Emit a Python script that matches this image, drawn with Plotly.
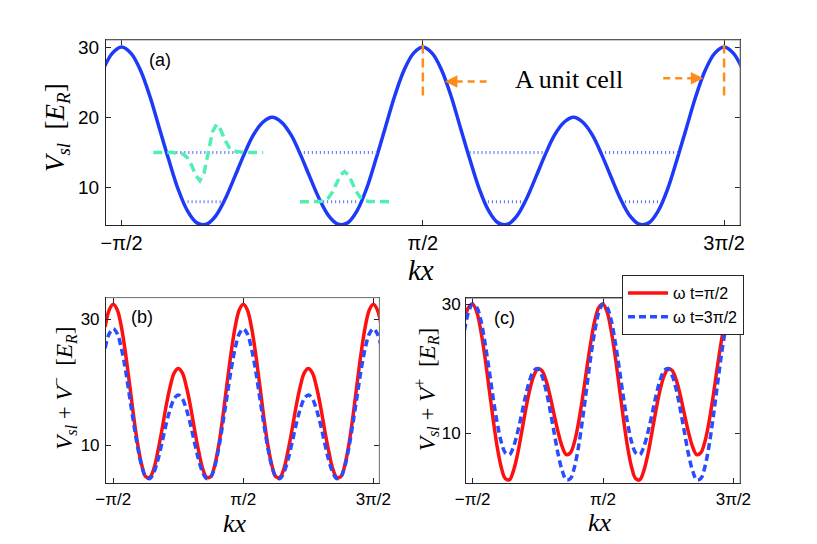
import plotly.graph_objects as go

# ---------------- data (x in units of pi) ----------------
KX = [k / 32 for k in range(-18, 51)]  # sample grid, step pi/32

V_SL = [26.7, 29.1, 30.0, 29.1, 26.7, 23.0, 18.5, 14.0, 9.8, 6.7, 5.0, 4.8, 6.0, 8.4, 11.5, 14.7, 17.5, 19.3,
        20.0, 19.3, 17.5, 14.7, 11.5, 8.4, 6.0, 4.8, 5.0, 6.7, 9.8, 14.0, 18.5, 23.0, 26.7, 29.1,
        30.0, 29.1, 26.7, 23.0, 18.5, 14.0, 9.8, 6.7, 5.0, 4.8, 6.0, 8.4, 11.5, 14.7, 17.5, 19.3,
        20.0, 19.3, 17.5, 14.7, 11.5, 8.4, 6.0, 4.8, 5.0, 6.7, 9.8, 14.0, 18.5, 23.0, 26.7, 29.1,
        30.0, 29.1, 26.7]

B_RED = [28.8, 31.5, 32.4, 31.5, 28.8, 24.7, 19.8, 14.7, 10.2, 6.9, 5.0, 4.9, 6.3, 9.1, 12.5, 16.2, 19.3, 21.5,
         22.2, 21.5, 19.3, 16.2, 12.5, 9.1, 6.3, 4.9, 5.0, 6.9, 10.2, 14.7, 19.8, 24.7, 28.8, 31.5,
         32.4, 31.5, 28.8, 24.7, 19.8, 14.7, 10.2, 6.9, 5.0, 4.9, 6.3, 9.1, 12.5, 16.2, 19.3, 21.5,
         22.2, 21.5, 19.3, 16.2, 12.5, 9.1, 6.3, 4.9, 5.0, 6.9, 10.2, 14.7, 19.8, 24.7, 28.8, 31.5,
         32.4, 31.5, 28.8]

B_BLUE = [25.4, 27.7, 28.5, 27.7, 25.4, 22.0, 17.8, 13.6, 9.7, 6.7, 5.0, 4.7, 5.7, 7.7, 10.4, 13.3, 15.7, 17.4,
          18.0, 17.4, 15.7, 13.3, 10.4, 7.7, 5.7, 4.7, 5.0, 6.7, 9.7, 13.6, 17.8, 22.0, 25.4, 27.7,
          28.5, 27.7, 25.4, 22.0, 17.8, 13.6, 9.7, 6.7, 5.0, 4.7, 5.7, 7.7, 10.4, 13.3, 15.7, 17.4,
          18.0, 17.4, 15.7, 13.3, 10.4, 7.7, 5.7, 4.7, 5.0, 6.7, 9.7, 13.6, 17.8, 22.0, 25.4, 27.7,
          28.5, 27.7, 25.4]

C_RED = [27.5, 29.5, 30.0, 28.8, 25.9, 21.9, 17.1, 12.3, 8.0, 4.8, 3.0, 2.8, 4.2, 6.7, 10.1, 13.6, 16.7, 18.9,
         20.0, 19.7, 18.2, 15.8, 12.9, 10.1, 7.9, 6.7, 7.0, 8.7, 11.7, 15.6, 20.0, 24.1, 27.5, 29.5,
         30.0, 28.8, 25.9, 21.9, 17.1, 12.3, 8.0, 4.8, 3.0, 2.8, 4.2, 6.7, 10.1, 13.6, 16.7, 18.9,
         20.0, 19.7, 18.2, 15.8, 12.9, 10.1, 7.9, 6.7, 7.0, 8.7, 11.7, 15.6, 20.0, 24.1, 27.5, 29.5,
         30.0, 28.8, 25.9]

C_BLUE = [25.9, 28.8, 30.0, 29.5, 27.5, 24.1, 20.0, 15.6, 11.7, 8.7, 7.0, 6.7, 7.9, 10.1, 12.9, 15.8, 18.2, 19.7,
          20.0, 18.9, 16.7, 13.6, 10.1, 6.7, 4.2, 2.8, 3.0, 4.8, 8.0, 12.3, 17.1, 21.9, 25.9, 28.8,
          30.0, 29.5, 27.5, 24.1, 20.0, 15.6, 11.7, 8.7, 7.0, 6.7, 7.9, 10.1, 12.9, 15.8, 18.2, 19.7,
          20.0, 18.9, 16.7, 13.6, 10.1, 6.7, 4.2, 2.8, 3.0, 4.8, 8.0, 12.3, 17.1, 21.9, 25.9, 28.8,
          30.0, 29.5, 27.5]

# energy levels (dotted) : x-extents in units of pi
UPPER_LEVEL = 15.0
UPPER_SEGS = [(-0.345, -0.092), (0.105, 0.348), (0.655, 0.908), (1.105, 1.348)]
LOWER_LEVEL = 8.0
LOWER_SEGS = [(-0.281, -0.170), (0.169, 0.280), (0.716, 0.828), (1.171, 1.287)]

# wave functions (green dashed)
PSI1_X = [-0.395, -0.33, -0.2956, -0.2818, -0.2679, -0.254, -0.2402, -0.2264, -0.2125, -0.1987,
          -0.1848, -0.171, -0.1571, -0.1433, -0.1294, -0.09, -0.030]
PSI1_Y = [15.0, 15.0, 14.78, 14.28, 13.22, 11.79, 11.0, 12.09, 15.0, 17.91,
          19.0, 18.21, 16.78, 15.72, 15.22, 15.0, 15.0]
PSI0_X = [0.092, 0.14, 0.1602, 0.1735, 0.1868, 0.2001, 0.2134, 0.2267, 0.24, 0.2533,
          0.2666, 0.2799, 0.2932, 0.3065, 0.3198, 0.35, 0.3964]
PSI0_Y = [8.0, 8.0, 8.05, 8.19, 8.58, 9.40, 10.61, 11.79, 12.3, 11.79,
          10.61, 9.40, 8.58, 8.19, 8.05, 8.0, 8.0]

# unit-cell markers
CELL_EDGES = [0.5, 1.5]
CELL_MARK_Y = (23.1, 30.75)
ARROW_L = dict(tail=0.7118, tip=0.5734, y=25.1)
ARROW_R = dict(tail=1.298, tip=1.431, y=25.55)

TICKVALS_X = [-0.5, 0.5, 1.5]
TICKTEXT_X = ["\u2212\u03c0/2", "\u03c0/2", "3\u03c0/2"]

# ---------------- styles ----------------
BLUE = "#1c3af7"
BLUE_D = "#2a4cff"
RED = "#ff1010"
GREEN = "#52eeb4"
ORANGE = "#ff8c1a"
DOT = "#5470ff"
AX = "#262626"
GRAY = "#8f8f8f"
SANS = "Liberation Sans, Arial, sans-serif"
SERIF = "Liberation Serif, Times New Roman, serif"

fig = go.Figure()

# panel (a)
fig.add_trace(go.Scatter(x=KX, y=V_SL, mode="lines", line=dict(color=BLUE, width=3.5, shape="spline"),
                         xaxis="x", yaxis="y", showlegend=False, hoverinfo="skip"))
for level, segs in ((UPPER_LEVEL, UPPER_SEGS), (LOWER_LEVEL, LOWER_SEGS)):
    xs, ys = [], []
    for a, b in segs:
        xs += [a, b, None]
        ys += [level, level, None]
    fig.add_trace(go.Scatter(x=xs, y=ys, mode="lines", line=dict(color=DOT, width=3, dash="1px,3px"),
                             xaxis="x", yaxis="y", showlegend=False, hoverinfo="skip"))
for px_, py_ in ((PSI1_X, PSI1_Y), (PSI0_X, PSI0_Y)):
    fig.add_trace(go.Scatter(x=px_, y=py_, mode="lines", line=dict(color=GREEN, width=3.5, dash="9px,5px"),
                             xaxis="x", yaxis="y", showlegend=False, hoverinfo="skip"))
for xe in CELL_EDGES:
    fig.add_trace(go.Scatter(x=[xe, xe], y=list(CELL_MARK_Y), mode="lines",
                             line=dict(color=ORANGE, width=2.5, dash="9px,5px"),
                             xaxis="x", yaxis="y", showlegend=False, hoverinfo="skip"))
HEAD = 0.035
fig.add_trace(go.Scatter(x=[ARROW_L["tail"], ARROW_L["tip"] + HEAD], y=[ARROW_L["y"]] * 2, mode="lines",
                         line=dict(color=ORANGE, width=2.5, dash="7px,5px"),
                         xaxis="x", yaxis="y", showlegend=False, hoverinfo="skip"))
fig.add_trace(go.Scatter(x=[ARROW_R["tail"], ARROW_R["tip"] - HEAD], y=[ARROW_R["y"]] * 2, mode="lines",
                         line=dict(color=ORANGE, width=2.5, dash="7px,5px"),
                         xaxis="x", yaxis="y", showlegend=False, hoverinfo="skip"))

# panel (b)
fig.add_trace(go.Scatter(x=KX, y=B_RED, mode="lines", line=dict(color=RED, width=3.5, shape="spline"),
                         xaxis="x2", yaxis="y2", showlegend=False, hoverinfo="skip"))
fig.add_trace(go.Scatter(x=KX, y=B_BLUE, mode="lines",
                         line=dict(color=BLUE_D, width=3.5, shape="spline", dash="7px,4px"),
                         xaxis="x2", yaxis="y2", showlegend=False, hoverinfo="skip"))

# panel (c)
fig.add_trace(go.Scatter(x=KX, y=C_RED, mode="lines", name="\u03c9 t=\u03c0/2",
                         line=dict(color=RED, width=3.5, shape="spline"),
                         xaxis="x3", yaxis="y3", showlegend=True, hoverinfo="skip"))
fig.add_trace(go.Scatter(x=KX, y=C_BLUE, mode="lines", name="\u03c9 t=3\u03c0/2",
                         line=dict(color=BLUE_D, width=3.5, shape="spline", dash="7px,4px"),
                         xaxis="x3", yaxis="y3", showlegend=True, hoverinfo="skip"))


def xax(domain, rng, anchor, size, standoff):
    return dict(domain=domain, range=rng, anchor=anchor, tickvals=TICKVALS_X, ticktext=TICKTEXT_X,
                ticks="inside", ticklen=5, tickcolor=AX, showline=True, linecolor=AX, linewidth=1,
                mirror="ticks", showgrid=False, zeroline=False, automargin=False,
                tickfont=dict(family=SANS, size=size, color="black"), ticklabelstandoff=standoff)


def yax(domain, rng, anchor, vals, size, standoff):
    return dict(domain=domain, range=rng, anchor=anchor, tickvals=vals,
                ticks="inside", ticklen=5, tickcolor=AX, showline=True, linecolor=AX, linewidth=1,
                mirror="ticks", showgrid=False, zeroline=False, automargin=False,
                tickfont=dict(family=SANS, size=size, color="black"), ticklabelstandoff=standoff)


W, H = 817, 544
fig.update_layout(
    width=W, height=H, margin=dict(l=0, r=0, t=0, b=0, pad=0, autoexpand=False),
    paper_bgcolor="white", plot_bgcolor="white", hovermode=False,
    xaxis=xax([0.1297, 0.9058], [-0.552, 1.553], "y", 20, 0),
    yaxis=yax([0.5864, 0.9265], [4.7, 31.0], "x", [10, 20, 30], 19, 2),
    xaxis2=xax([0.1297, 0.4643], [-0.556, 1.546], "y2", 17, 0),
    yaxis2=yax([0.1116, 0.4528], [3.95, 33.45], "x2", [10, 30], 17, 2),
    xaxis3=xax([0.5704, 0.9058], [-0.551, 1.551], "y3", 17, 0),
    yaxis3=yax([0.1116, 0.4517], [2.27, 30.9], "x3", [10, 30], 17, 1),
    legend=dict(x=622 / W, y=1 - 275 / H, xanchor="left", yanchor="top", bgcolor="white",
                bordercolor=AX, borderwidth=1, font=dict(family=SANS, size=16, color="black"),
                tracegroupgap=0, itemwidth=40),
)

# gray top/right frame lines
shapes = []
for xr, yr in (("x", "y"), ("x2", "y2"), ("x3", "y3")):
    shapes.append(dict(type="line", xref=xr + " domain", yref=yr + " domain", x0=0, x1=1, y0=1, y1=1,
                       line=dict(color=GRAY, width=1), layer="above"))
    shapes.append(dict(type="line", xref=xr + " domain", yref=yr + " domain", x0=1, x1=1, y0=0, y1=1,
                       line=dict(color=GRAY, width=1), layer="above"))
fig.update_layout(shapes=shapes)

ann = []
# arrow heads
ann.append(dict(x=ARROW_L["tip"], y=ARROW_L["y"], ax=ARROW_L["tip"] + HEAD, ay=ARROW_L["y"], xref="x", yref="y",
                axref="x", ayref="y", showarrow=True, arrowhead=2, arrowsize=1, arrowwidth=2.5,
                arrowcolor=ORANGE, text=""))
ann.append(dict(x=ARROW_R["tip"], y=ARROW_R["y"], ax=ARROW_R["tip"] - HEAD, ay=ARROW_R["y"], xref="x", yref="y",
                axref="x", ayref="y", showarrow=True, arrowhead=2, arrowsize=1, arrowwidth=2.5,
                arrowcolor=ORANGE, text=""))
ann.append(dict(x=0.984, y=25.45, xref="x", yref="y", text="A unit cell", showarrow=False,
                font=dict(family=SERIF, size=26, color="black")))


def pann(xp, yp, text, size, family, angle=0):
    return dict(x=xp / W, y=1 - yp / H, xref="paper", yref="paper", text=text, showarrow=False,
                xanchor="center", yanchor="middle", textangle=angle, font=dict(family=family, size=size, color="black"))


ann.append(pann(160, 60, "(a)", 18, SANS))
ann.append(pann(141.7, 316.7, "(b)", 18, SANS))
ann.append(pann(504, 318, "(c)", 18, SANS))
ann.append(pann(421, 270, "<i>kx</i>", 29, SERIF))
ann.append(pann(235, 523, "<i>kx</i>", 26, SERIF))
ann.append(pann(600, 522, "<i>kx</i>", 26, SERIF))
ann.append(pann(57, 128, "<i>V</i><sub><i>sl</i></sub>  [<i>E</i><sub><i>R</i></sub>]", 27, SERIF, -90))
ann.append(pann(64, 387.7, "<i>V</i><sub><i>sl</i></sub> + <i>V</i><sup>\u2212</sup>  [<i>E</i><sub><i>R</i></sub>]",
                23, SERIF, -90))
ann.append(pann(426, 389, "<i>V</i><sub><i>sl</i></sub> + <i>V</i><sup>+</sup>  [<i>E</i><sub><i>R</i></sub>]",
                23, SERIF, -90))
fig.update_layout(annotations=ann)

# remove the default 8px page margin so the figure sits at the window origin
fig.write_html("out.html", config={"displayModeBar": False},
               post_script="document.body.style.margin='0px';")
